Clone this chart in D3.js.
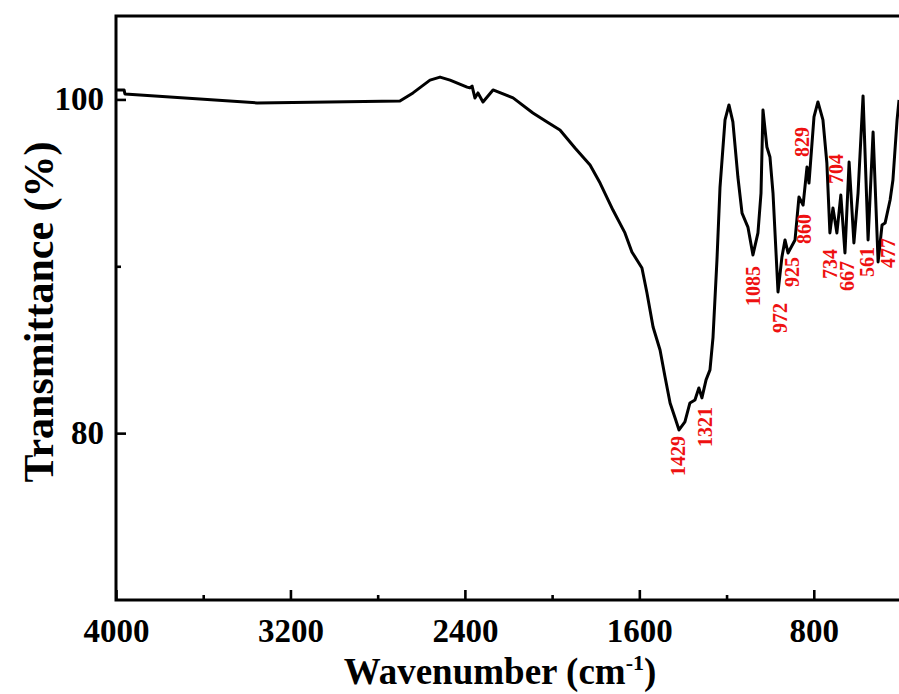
<!DOCTYPE html>
<html>
<head>
<meta charset="utf-8">
<script src="https://cdn.jsdelivr.net/npm/d3@7"></script>
<style>
  html, body { margin: 0; padding: 0; background: #ffffff; }
  svg { display: block; }
  text { font-family: "Liberation Serif", "Times New Roman", serif; font-weight: bold; }
</style>
</head>
<body>
<svg id="chart" width="899" height="694"></svg>
<script>
// FTIR spectrum: wavenumber (cm-1) and transmittance (%)
const wavenumber = [
  4000, 3963, 3959, 3353, 2698, 2638, 2560, 2514, 2468, 2390,
  2377, 2367, 2354, 2340, 2317, 2271, 2179, 2088, 2023, 1964,
  1895, 1826, 1780, 1721, 1666, 1634, 1588, 1565, 1537, 1505,
  1482, 1459, 1436, 1418, 1391, 1368, 1345, 1327, 1313, 1294,
  1276, 1262, 1244, 1230, 1207, 1189, 1171, 1148, 1129, 1102,
  1079, 1056, 1042, 1033, 1015, 1001, 987, 964, 946, 932,
  918, 886, 868, 849, 831, 822, 799, 781, 758, 740,
  726, 712, 694, 676, 657, 638, 616, 597, 574, 551,
  528, 505, 487, 473, 450, 437, 418, 409
];
const transmittance = [
  100.57, 100.57, 100.33, 99.79, 99.91, 100.39, 101.16, 101.34, 101.16, 100.74,
  100.69, 100.80, 100.09, 100.39, 99.85, 100.57, 100.09, 99.19, 98.65, 98.17,
  97.09, 96.07, 94.99, 93.37, 92.00, 90.86, 89.90, 88.40, 86.36, 84.98,
  83.37, 81.81, 80.91, 80.19, 80.67, 81.81, 81.99, 82.71, 82.11, 83.19,
  83.79, 85.76, 90.38, 94.75, 98.77, 99.67, 98.65, 95.35, 93.19, 92.35,
  90.68, 92.00, 94.39, 99.37, 97.15, 96.55, 94.39, 88.46, 90.56, 91.58,
  90.80, 91.58, 94.15, 93.67, 95.95, 94.99, 98.95, 99.85, 98.77, 96.19,
  92.00, 93.49, 92.00, 94.27, 90.80, 96.25, 91.40, 94.39, 100.21, 91.58,
  98.05, 90.26, 92.47, 92.59, 93.97, 95.17, 98.77, 99.97
];

// Peak annotations: text, and the (wavenumber, transmittance) where each label is centred
const peakLabels = ["1429", "1321", "1085", "972", "925", "860", "829", "734", "704", "667", "561", "477"];
const peakLabelX = [1423, 1299, 1079, 955, 900, 845, 854, 726, 698, 648, 556, 460];
const peakLabelY = [78.63, 80.37, 88.82, 86.90, 89.66, 92.23, 97.45, 90.14, 95.83, 89.42, 90.26, 90.80];

// Axis ticks
const xMajorTicks = [4000, 3200, 2400, 1600, 800];
const xMinorTicks = [3600, 2800, 2000, 1200, 400];
const yMajorTicks = [100, 80];
const yMinorTicks = [90];

const xDomain = [4000, 400];
const yDomain = [70, 105];

const margin = { left: 116, right: -2, top: 16, bottom: 94 };
const W = 899, H = 694;
const svg = d3.select("#chart");

const x = d3.scaleLinear().domain(xDomain).range([margin.left, W - margin.right]);
const y = d3.scaleLinear().domain(yDomain).range([H - margin.bottom, margin.top]);

const clipId = "plot-clip";
svg.append("defs").append("clipPath").attr("id", clipId)
  .append("rect")
  .attr("x", x.range()[0]).attr("y", y.range()[1])
  .attr("width", x.range()[1] - x.range()[0])
  .attr("height", y.range()[0] - y.range()[1]);

const pts = wavenumber.map((w, i) => [w, transmittance[i]]);

// spectrum trace
svg.append("path")
  .datum(pts)
  .attr("clip-path", `url(#${clipId})`)
  .attr("fill", "none")
  .attr("stroke", "#000")
  .attr("stroke-width", 3)
  .attr("stroke-linejoin", "round")
  .attr("d", d3.line().x(d => x(d[0])).y(d => y(d[1])));

// bottom axis: major + minor inward ticks
const bottomMajor = svg.append("g")
  .attr("transform", `translate(0,${y.range()[0]})`)
  .call(d3.axisBottom(x).tickValues(xMajorTicks).tickSize(-10).tickPadding(19).tickFormat(d3.format("d")));
svg.append("g")
  .attr("transform", `translate(0,${y.range()[0]})`)
  .call(d3.axisBottom(x).tickValues(xMinorTicks).tickSize(-5).tickFormat(""))
  .call(g => g.select(".domain").remove());

// left axis
const leftMajor = svg.append("g")
  .attr("transform", `translate(${x.range()[0]},0)`)
  .call(d3.axisLeft(y).tickValues(yMajorTicks).tickSize(-10).tickPadding(12).tickFormat(d3.format("d")));
svg.append("g")
  .attr("transform", `translate(${x.range()[0]},0)`)
  .call(d3.axisLeft(y).tickValues(yMinorTicks).tickSize(-5).tickFormat(""))
  .call(g => g.select(".domain").remove());

svg.selectAll(".tick line").attr("stroke", "#000").attr("stroke-width", 2.6);
bottomMajor.selectAll(".domain").remove();
leftMajor.selectAll(".domain").remove();

svg.selectAll(".tick text")
  .attr("fill", "#000")
  .style("font-family", '"Liberation Serif", "Times New Roman", serif')
  .style("font-weight", "bold")
  .style("font-size", "33px");

// frame
svg.append("rect")
  .attr("x", x.range()[0]).attr("y", y.range()[1])
  .attr("width", x.range()[1] - x.range()[0])
  .attr("height", y.range()[0] - y.range()[1])
  .attr("fill", "none").attr("stroke", "#000").attr("stroke-width", 3);

// peak labels (rotated, red)
svg.append("g").selectAll("text")
  .data(peakLabels)
  .join("text")
  .attr("transform", (d, i) => `translate(${x(peakLabelX[i])},${y(peakLabelY[i])}) rotate(-90)`)
  .attr("text-anchor", "middle")
  .attr("dy", "0.35em")
  .attr("fill", "#ee1111")
  .style("font-size", "20px")
  .text(d => d);

// axis titles
const xTitle = svg.append("text")
  .attr("x", 500).attr("y", 684)
  .attr("text-anchor", "middle")
  .style("font-size", "37px");
xTitle.append("tspan").text("Wavenumber (cm");
xTitle.append("tspan").attr("dy", -14).style("font-size", "22px").text("-1");
xTitle.append("tspan").attr("dy", 14).text(")");

svg.append("text")
  .attr("transform", `translate(53,312) rotate(-90)`)
  .attr("text-anchor", "middle")
  .style("font-size", "42px")
  .text("Transmittance (%)");
</script>
</body>
</html>
